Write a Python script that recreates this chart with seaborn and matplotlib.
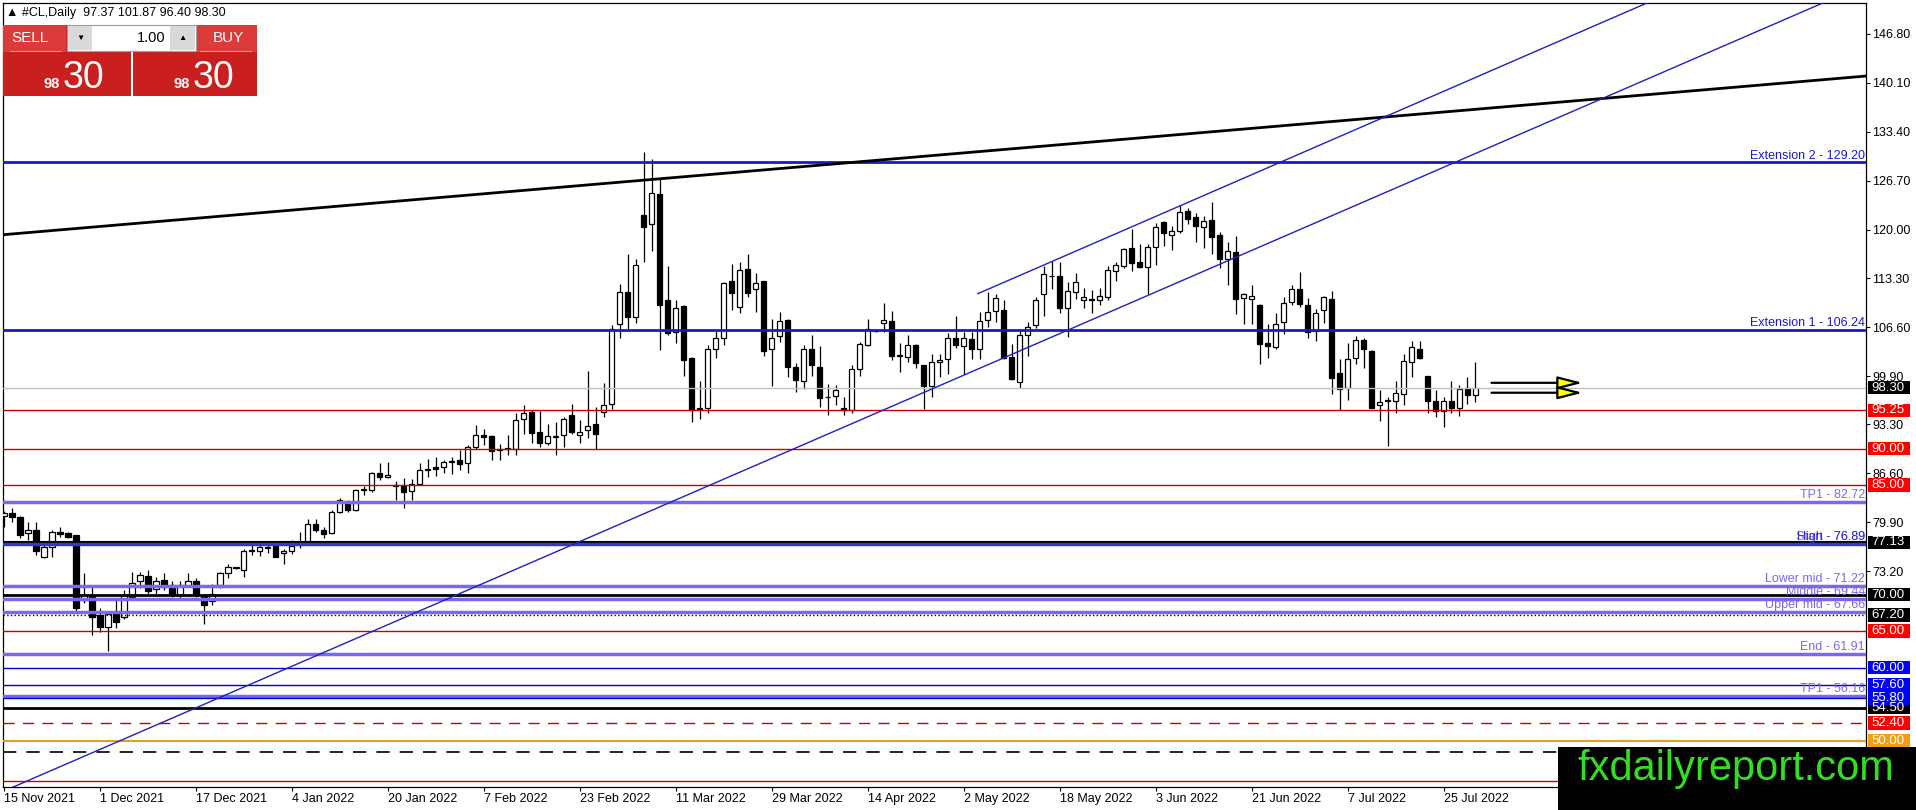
import matplotlib
matplotlib.use('Agg')
import matplotlib.pyplot as plt
import seaborn as sns
import numpy as np
import pandas as pd
from matplotlib.patches import Rectangle
from matplotlib.transforms import blended_transform_factory

# ---------------- data ----------------
opens = [80.8, 81.1, 80.6, 78.4, 78.8, 75.2, 76.5, 78.6, 78.4, 78.1,
         69.3, 70.0, 67.2, 65.6, 67.4, 66.9, 69.7, 71.8, 72.5, 70.7,
         72.0, 71.3, 70.0, 71.2, 71.9, 69.9, 69.1, 71.3, 73.0, 73.6,
         73.4, 76.1, 75.9, 76.4, 76.6, 75.7, 75.9, 76.9, 77.2, 79.6,
         78.9, 78.4, 81.3, 82.7, 81.6, 84.3, 84.3, 86.6, 86.1, 85.0,
         84.9, 84.2, 85.2, 87.1, 87.5, 87.4, 88.2, 88.4, 88.0, 90.2,
         91.9, 91.7, 89.8, 89.9, 90.0, 94.0, 95.0, 92.3, 90.8, 91.6,
         91.9, 94.6, 91.8, 92.6, 93.4, 95.0, 96.1, 107.1, 111.4, 108.0,
         122.0, 120.8, 124.8, 110.4, 106.0, 109.5, 102.4, 95.4, 95.5, 103.7,
         105.2, 112.9, 109.4, 114.6, 111.8, 112.9, 103.6, 105.4, 107.6, 101.2,
         99.2, 103.7, 101.2, 97.0, 97.2, 95.6, 95.3, 100.9, 104.2, 106.1,
         107.2, 107.4, 102.7, 102.6, 104.2, 101.4, 98.6, 101.8, 102.2, 105.2,
         104.1, 105.0, 103.6, 107.6, 108.8, 109.0, 102.6, 99.1, 105.5, 106.9,
         111.1, 113.7, 113.7, 109.3, 111.4, 110.3, 110.5, 110.4, 110.8, 114.3,
         115.0, 117.5, 115.5, 114.9, 117.6, 121.0, 119.2, 119.8, 122.6, 121.7,
         120.3, 121.3, 119.2, 116.0, 116.9, 110.6, 110.5, 109.7, 104.5, 103.9,
         107.3, 110.1, 111.9, 109.7, 106.1, 109.0, 110.5, 100.4, 98.3, 102.4,
         104.8, 103.4, 96.0, 96.5, 96.5, 97.5, 101.9, 103.6, 99.9, 96.5,
         95.2, 96.5, 95.6, 98.3, 97.37]
highs = [81.5, 81.8, 80.7, 80.0, 80.0, 76.8, 78.8, 79.2, 78.5, 78.2,
         72.9, 71.0, 68.2, 67.4, 69.2, 70.6, 73.1, 73.1, 73.4, 72.4,
         72.9, 71.9, 71.8, 72.9, 72.2, 70.1, 71.5, 73.1, 74.2, 73.8,
         76.3, 76.8, 76.8, 77.3, 76.8, 76.3, 77.5, 78.6, 80.3, 80.4,
         79.3, 81.6, 83.2, 82.9, 84.5, 84.8, 86.8, 88.0, 88.2, 85.5,
         86.0, 85.8, 88.0, 88.5, 88.8, 88.4, 88.9, 89.8, 90.5, 93.2,
         92.7, 91.8, 90.6, 91.8, 94.8, 96.0, 95.3, 95.1, 93.4, 93.6,
         94.3, 96.1, 93.9, 100.6, 95.7, 99.0, 106.9, 112.6, 116.6, 116.0,
         130.6, 129.6, 126.9, 115.0, 110.3, 109.6, 102.6, 99.3, 104.2, 106.3,
         112.8, 115.3, 115.6, 116.7, 114.1, 113.0, 107.8, 108.7, 107.8, 101.7,
         104.2, 105.6, 104.1, 98.9, 98.7, 97.1, 101.4, 104.6, 107.8, 106.2,
         109.9, 108.9, 104.4, 105.6, 104.3, 101.5, 103.0, 103.0, 105.8, 108.1,
         105.9, 105.9, 108.7, 111.4, 111.1, 110.3, 104.3, 106.2, 107.3, 110.8,
         115.0, 115.7, 115.5, 112.8, 114.1, 112.0, 111.7, 112.0, 115.0, 115.6,
         117.5, 120.1, 118.0, 118.0, 120.9, 121.2, 120.5, 123.3, 122.9, 122.3,
         121.8, 123.8, 119.7, 118.3, 119.1, 111.3, 112.4, 109.8, 107.1, 108.6,
         110.7, 112.4, 114.2, 110.6, 109.1, 110.9, 111.6, 102.2, 104.5, 105.4,
         105.2, 103.5, 98.0, 97.0, 99.2, 103.0, 104.7, 104.7, 99.9, 98.0,
         97.0, 99.2, 98.7, 99.8, 101.87]
lows = [79.3, 80.0, 77.7, 77.5, 75.4, 75.0, 75.2, 77.9, 77.7, 67.4,
        68.8, 64.4, 64.8, 62.3, 65.4, 66.7, 69.6, 70.9, 70.1, 70.1,
        70.6, 69.7, 69.2, 71.0, 69.7, 65.9, 68.5, 70.9, 72.2, 73.5,
        72.4, 75.4, 75.3, 75.7, 75.1, 74.2, 75.6, 76.4, 76.8, 78.5,
        77.7, 78.3, 81.1, 81.3, 81.5, 83.6, 84.1, 85.7, 85.9, 83.0,
        81.9, 83.0, 85.0, 86.1, 86.3, 86.6, 86.5, 87.1, 86.7, 90.0,
        90.5, 88.4, 88.4, 89.1, 89.1, 92.0, 90.7, 90.2, 90.5, 89.1,
        90.2, 92.0, 90.7, 91.4, 90.0, 94.3, 95.4, 105.2, 106.4, 107.2,
        115.6, 117.1, 103.5, 105.5, 104.5, 99.9, 93.6, 94.1, 94.8, 102.4,
        104.2, 109.0, 108.6, 110.7, 108.7, 102.7, 98.6, 104.6, 99.8, 97.8,
        98.2, 99.9, 95.7, 94.6, 95.9, 94.6, 94.8, 99.9, 104.0, 106.0,
        106.0, 102.1, 100.5, 101.9, 101.0, 95.4, 97.1, 99.8, 100.2, 103.8,
        100.2, 102.3, 102.3, 106.7, 107.3, 102.3, 99.4, 98.3, 102.7, 106.5,
        108.2, 111.9, 108.5, 105.3, 110.5, 109.2, 108.6, 109.6, 110.3, 112.9,
        114.7, 114.3, 114.7, 111.1, 115.2, 117.7, 117.2, 119.5, 120.8, 118.3,
        117.5, 116.7, 114.7, 112.4, 108.4, 107.0, 107.0, 101.6, 102.4, 103.7,
        105.7, 109.6, 109.4, 105.2, 104.7, 107.2, 97.5, 95.3, 96.6, 101.6,
        101.0, 95.5, 93.8, 90.4, 94.8, 95.9, 99.8, 102.3, 94.8, 94.3,
        93.0, 94.8, 94.4, 96.1, 96.40]
closes = [81.2, 80.6, 78.2, 78.8, 76.0, 76.5, 78.6, 78.3, 77.9, 68.1,
          69.9, 66.9, 65.6, 67.3, 66.2, 69.9, 71.6, 72.7, 70.5, 71.9,
          71.0, 69.9, 71.3, 71.9, 69.9, 68.5, 70.1, 73.0, 73.8, 73.7,
          76.0, 75.9, 76.5, 76.5, 75.2, 76.0, 76.7, 77.0, 79.6, 78.8,
          78.3, 81.3, 82.9, 81.6, 84.3, 84.4, 86.6, 86.1, 86.4, 84.9,
          84.1, 85.2, 87.1, 87.2, 87.2, 88.1, 88.3, 87.9, 90.2, 91.9,
          91.6, 89.7, 89.9, 90.1, 93.9, 94.9, 92.1, 90.7, 91.7, 91.7,
          94.0, 92.2, 92.3, 93.1, 92.0, 95.9, 106.4, 111.5, 108.0, 115.1,
          120.4, 125.0, 109.6, 105.8, 109.2, 102.1, 95.3, 95.5, 103.7, 105.1,
          112.7, 111.3, 114.4, 111.3, 112.7, 103.4, 105.2, 107.5, 101.2, 99.4,
          103.7, 101.4, 96.9, 97.1, 98.0, 95.3, 100.9, 104.3, 106.4, 106.1,
          107.6, 102.7, 102.8, 104.2, 101.7, 98.6, 101.8, 102.1, 105.2, 104.2,
          105.1, 103.6, 107.5, 108.7, 110.6, 102.4, 99.5, 105.6, 106.7, 110.3,
          113.9, 113.6, 109.3, 111.6, 112.8, 110.7, 110.4, 110.9, 114.4, 115.2,
          117.3, 115.4, 114.9, 117.6, 120.4, 119.5, 119.8, 122.4, 121.5, 120.5,
          121.1, 119.0, 115.9, 117.1, 110.5, 111.1, 110.9, 104.3, 104.1, 107.1,
          109.9, 111.9, 109.8, 106.0, 108.5, 110.8, 99.6, 98.1, 102.2, 104.8,
          103.6, 95.6, 96.4, 96.6, 97.6, 102.0, 103.9, 102.4, 96.5, 95.1,
          96.5, 95.5, 98.1, 97.3, 98.30]

date_labels = ['15 Nov 2021', '1 Dec 2021', '17 Dec 2021', '4 Jan 2022', '20 Jan 2022',
               '7 Feb 2022', '23 Feb 2022', '11 Mar 2022', '29 Mar 2022', '14 Apr 2022',
               '2 May 2022', '18 May 2022', '3 Jun 2022', '21 Jun 2022', '7 Jul 2022',
               '25 Jul 2022']
price_ticks = [146.80, 140.10, 133.40, 126.70, 120.00, 113.30, 106.60, 99.90,
               93.30, 86.60, 79.90, 73.20]

# horizontal levels: value, colour, width, style
levels = [
    (129.20, '#1a1acc', 2.0, '-'), (106.24, '#1a1acc', 2.0, '-'),
    (98.30, '#c0c0c0', 1.0, '-'), (95.25, '#cc0000', 1.0, '-'),
    (90.00, '#cc0000', 1.0, '-'), (85.00, '#cc0000', 1.0, '-'),
    (82.72, '#7b68ee', 2.5, '-'), (77.13, '#000000', 1.5, '-'),
    (76.89, '#3535d0', 2.5, '-'), (71.22, '#7b68ee', 2.5, '-'),
    (70.00, '#000000', 2.0, '-'), (69.44, '#7b68ee', 2.5, '-'),
    (67.66, '#7b68ee', 2.5, '-'), (67.20, '#000000', 1.0, ':'),
    (65.00, '#cc0000', 1.0, '-'), (61.91, '#7b68ee', 2.5, '-'),
    (60.00, '#0000cc', 1.0, '-'), (57.60, '#0000cc', 1.0, '-'),
    (56.16, '#7b68ee', 2.5, '-'), (55.80, '#0000cc', 1.0, '-'),
    (54.50, '#000000', 2.0, '-'), (52.40, '#cc0000', 1.0, (0, (8, 6))),
    (50.00, '#e0a020', 1.5, '-'), (48.40, '#000000', 1.2, (0, (8, 6))),
    (44.40, '#cc0000', 1.0, '-'),
]
level_texts = [
    (129.20, 'Extension 2 - 129.20', '#1a1acc'), (106.24, 'Extension 1 - 106.24', '#1a1acc'),
    (82.72, 'TP1 - 82.72', '#7b68ee'), (76.89, 'Start - 76.89', '#7b68ee'),
    (76.89, 'High - 76.89', '#3535d0'), (71.22, 'Lower mid - 71.22', '#7b68ee'),
    (69.44, 'Middle - 69.44', '#7b68ee'), (67.66, 'Upper mid - 67.66', '#7b68ee'),
    (61.91, 'End - 61.91', '#7b68ee'), (56.16, 'TP1 - 56.16', '#7b68ee'),
]
# price, box colour, whether its text is visible (48.40 sits under the watermark)
price_boxes = [
    (48.40, '#000000', False), (50.00, '#f0a010', True), (52.40, '#ff0000', True),
    (54.50, '#000000', True), (55.80, '#0000ff', True), (57.60, '#0000ff', True),
    (60.00, '#0000ff', True), (65.00, '#ff0000', True), (67.20, '#000000', True),
    (70.00, '#000000', True), (77.13, '#000000', True), (85.00, '#ff0000', True),
    (90.00, '#ff0000', True), (95.25, '#ff0000', True), (98.30, '#000000', True),
]
# trend lines (bar index, price)
trend_black = ([-0.5, 232.9], [119.25, 141.03])
channel_low = ([0.25, 232.0], [43.2, 153.2])
channel_up = ([121.75, 210.0], [111.2, 153.2])
arrow_prices = [99.0, 97.64]
arrow_span = (186.0, 197.4)

# ---------------- figure ----------------
sns.set_theme(style='white')
plt.rcParams['font.family'] = ['Liberation Sans', 'DejaVu Sans']

W, H = 1916, 810
fig = plt.figure(figsize=(W / 100, H / 100), dpi=100)
fig.patch.set_facecolor('white')
L, T, R, B = 2.7, 3.0, 1866.0, 787.0
ax = fig.add_axes([L / W, 1 - B / H, (R - L) / W, (B - T) / H])
ax.set_facecolor('white')

df = pd.DataFrame({'o': opens, 'h': highs, 'l': lows, 'c': closes})
df['i'] = np.arange(len(df))
df['bot'] = df[['o', 'c']].min(axis=1)
df['ht'] = (df['c'] - df['o']).abs()
df['fill'] = np.where(df['c'] >= df['o'], 'white', 'black')

ax.vlines(df['i'], df['l'], df['h'], color='black', lw=0.9, zorder=3)
ax.bar(df['i'], df['ht'], bottom=df['bot'], width=0.65, color=df['fill'],
       edgecolor='black', linewidth=0.9, zorder=4)

for val, col, lw, ls in levels:
    ax.axhline(val, color=col, lw=lw, ls=ls, zorder=5)

sns.lineplot(x=trend_black[0], y=trend_black[1], ax=ax, color='black', lw=2.0, zorder=6)
sns.lineplot(x=channel_low[0], y=channel_low[1], ax=ax, color='#2020c0', lw=1.0, zorder=6)
sns.lineplot(x=channel_up[0], y=channel_up[1], ax=ax, color='#2020c0', lw=1.0, zorder=6)

for p in arrow_prices:
    ax.annotate('', xy=(arrow_span[1], p), xytext=(arrow_span[0], p),
                arrowprops=dict(arrowstyle='-|>,head_length=1.25,head_width=0.32',
                                fc='#ffff00', ec='black', lw=1.6,
                                shrinkA=0, shrinkB=0), zorder=7)

ax.set_xlim(-0.16, 232.83)
ax.set_ylim(43.63, 151.03)
ax.set_xlabel('')
ax.set_ylabel('')

ax.yaxis.tick_right()
ax.set_yticks(price_ticks)
ax.set_yticklabels([f'{v:.2f}' for v in price_ticks])
ax.set_xticks(list(range(0, 12 * len(date_labels), 12)))
ax.set_xticklabels(date_labels, ha='left')
ax.tick_params(axis='both', direction='out', length=3, width=0.8, color='black',
               labelsize=9, pad=1.5, labelcolor='black')
ax.tick_params(axis='y', left=False, right=True, labelleft=False, labelright=True)
ax.tick_params(axis='x', bottom=True, top=False)
for s in ax.spines.values():
    s.set_color('black')
    s.set_linewidth(0.9)

trans = blended_transform_factory(ax.transAxes, ax.transData)
span = R - L
xr = (1865 - L) / span
for val, txt, col in level_texts:
    ax.annotate(txt, xy=(xr, val), xycoords=trans, xytext=(0, 0.6),
                textcoords='offset points', ha='right', va='bottom',
                color=col, fontsize=9, zorder=12, annotation_clip=False)

bx0 = (1868 - L) / span
bw = 42 / span
for val, col, show in price_boxes:
    ax.add_patch(Rectangle((bx0, val - 0.9), bw, 1.8, transform=trans, fc=col,
                           ec='none', clip_on=False, zorder=20))
    if show:
        ax.text(bx0 + 3 / span, val, f'{val:.2f}', transform=trans, color='white',
                fontsize=9.5, ha='left', va='center', clip_on=False, zorder=21)


# ---------------- overlays (pixel helpers) ----------------
def frect(x0, y0, x1, y1, z=30, **kw):
    fig.add_artist(Rectangle((x0 / W, 1 - y1 / H), (x1 - x0) / W, (y1 - y0) / H,
                             transform=fig.transFigure, zorder=z, **kw))


def ftext(x, y, s, z=31, **kw):
    fig.text(x / W, 1 - y / H, s, zorder=z, **kw)


ftext(6, 13, '\u25b2 #CL,Daily  97.37 101.87 96.40 98.30', fontsize=9,
      va='center', ha='left', color='black')

frect(3, 25, 131, 96, fc='#c91f1f', ec='none')
frect(133, 25, 257, 96, fc='#c91f1f', ec='none')
frect(3, 25, 66, 52, fc='#dc3b3b', ec='none')
frect(196, 25, 257, 52, fc='#dc3b3b', ec='none')
frect(10, 51, 62, 52, fc='#ee9090', ec='none')
frect(200, 51, 252, 52, fc='#ee9090', ec='none')
frect(67, 25, 196, 51, fc='white', ec='#a0a0a0', lw=0.8)
frect(68, 26, 92, 50, fc='#d9d9d9', ec='none')
frect(170, 26, 195, 50, fc='#d9d9d9', ec='none')
ftext(80, 38, '\u25bc', fontsize=6, ha='center', va='center', color='black')
ftext(182, 38, '\u25b2', fontsize=6, ha='center', va='center', color='black')
ftext(166, 38, '1.00', fontsize=10.5, ha='right', va='center', color='black')
ftext(11, 38, 'SELL', fontsize=11, ha='left', va='center', color='white')
ftext(213, 38, 'BUY', fontsize=11, ha='left', va='center', color='white')
ftext(60, 88, '98', fontsize=10.5, fontweight='bold', ha='right', va='baseline', color='white')
ftext(63, 88, '30', fontsize=27, ha='left', va='baseline', color='white')
ftext(190, 88, '98', fontsize=10.5, fontweight='bold', ha='right', va='baseline', color='white')
ftext(193, 88, '30', fontsize=27, ha='left', va='baseline', color='white')

# watermark
frect(1558, 747, 1916, 810, z=50, fc='black', ec='none')
ftext(1736, 780, 'fxdailyreport.com', z=51, fontsize=30, ha='center',
      va='baseline', color='#33dd22')

fig.savefig('out.png', dpi=100)
